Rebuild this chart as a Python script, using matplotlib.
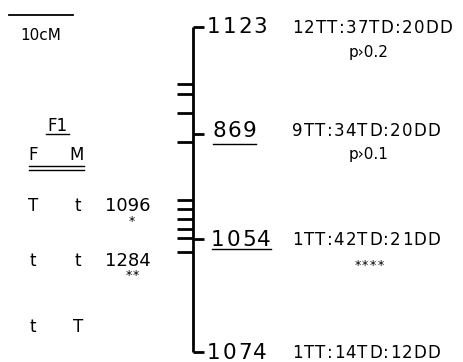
import matplotlib
matplotlib.use("Agg")
import matplotlib.pyplot as plt
from matplotlib import font_manager
from matplotlib.ft2font import FT2Font

# genetic map, positions in cM from the top marker
markers = ["1123", "869", "1054", "1074"]
marker_cm = [0.0, 16.7, 33.1, 50.8]
underlined = [False, True, True, False]
ratios = ["12TT:37TD:20DD", "9TT:34TD:20DD", "1TT:42TD:21DD", "1TT:14TD:12DD"]
signif = ["p\u203a0.2", "p\u203a0.1", "****", ""]

# short ticks left of the map (other loci)
tick_cm = [8.9, 10.5, 13.4, 18.0, 27.0, 28.5, 30.0, 31.5, 33.0, 35.1]

# F1 parental phase
f1_rows = [("T", "t", "1096", "*"), ("t", "t", "1284", "**"), ("t", "T", "", "")]

scale_cm = 10

PX_PER_CM = 6.4
TOP = 27
W, H = 463, 362
DPI = 100


def yp(pix):
    # pixel row -> cM on the map axis
    return (pix - TOP) / PX_PER_CM


plt.rcParams['font.family'] = ['DejaVu Sans']
font_file = font_manager.findfont("DejaVu Sans")


def spaced(ax, x, y, s, size, gap, ha="left", **kw):
    # draw text with extra letter spacing (x is in pixels here)
    ft = FT2Font(font_file)
    ft.set_size(size, DPI)
    adv = []
    for ch in s:
        g = ft.load_char(ord(ch))
        adv.append(g.linearHoriAdvance / 65536)
    total = sum(adv) + gap * (len(s) - 1)
    if ha == "center":
        x -= total / 2
    for ch, a in zip(s, adv):
        ax.text(x, y, ch, fontsize=size, ha="left", va="center", **kw)
        x += a + gap
    return x


fig = plt.figure(figsize=(W / DPI, H / DPI), dpi=DPI)
ax = fig.add_axes([0, 0, 1, 1])
ax.set_xlim(0, W)
ax.set_ylim(yp(H), yp(0))
ax.axis("off")

lw = 2.0
x0 = 193
# main chromosome line
ax.plot([x0, x0], [marker_cm[0], marker_cm[-1]], color="black", lw=lw,
        solid_capstyle="butt")
# marker ticks to the right
for cm in marker_cm:
    ax.plot([x0, x0 + 11], [cm, cm], color="black", lw=lw, solid_capstyle="butt")
# locus ticks to the left
for cm in tick_cm:
    ax.plot([x0 - 16, x0], [cm, cm], color="black", lw=lw, solid_capstyle="butt")

name_x = [207, 212, 211, 207]
name_dy = [0.0, -0.4, 0.2, 0.2]
ratio_dy = [0.1, -0.4, 0.2, 0.2]
sig_y = [52, 155, 266, 0]
for i, (name, cm, ul, rat, sg) in enumerate(zip(markers, marker_cm, underlined, ratios, signif)):
    x_end = spaced(ax, name_x[i], cm + name_dy[i], name, 15.5, 1.8)
    spaced(ax, 292, cm + ratio_dy[i], rat, 12, 1.3)
    if ul:
        ax.plot([name_x[i] + 1, x_end - 2], [cm + 1.55, cm + 1.55], color="black", lw=1.0)
    if sg.startswith("p"):
        ax.text(369, yp(sig_y[i]), sg, fontsize=11, ha="center", va="center")
    elif sg:
        spaced(ax, 369, yp(sig_y[i]), sg, 9, 1.5, ha="center")

# scale bar
ax.plot([9, 9 + scale_cm * PX_PER_CM], [yp(15), yp(15)], color="black", lw=1.3)
ax.text(41, yp(35), f"{scale_cm}cM", fontsize=11, ha="center", va="center")

# F1 header
ax.text(57, yp(126), "F1", fontsize=12, ha="center", va="center")
ax.plot([46, 69], [yp(134), yp(134)], color="black", lw=1.0)
ax.text(33, yp(155), "F", fontsize=12, ha="center", va="center")
ax.text(77, yp(155), "M", fontsize=12, ha="center", va="center")
ax.plot([29, 84], [yp(166), yp(166)], color="black", lw=1.0)
ax.plot([29, 84], [yp(170), yp(170)], color="black", lw=1.0)

row_y = [206, 261, 327]
for (f, m, loc, st), ry in zip(f1_rows, row_y):
    ax.text(33, yp(ry), f, fontsize=12, ha="center", va="center")
    ax.text(78, yp(ry), m, fontsize=12, ha="center", va="center")
    if loc:
        ax.text(128, yp(ry), loc, fontsize=13, ha="center", va="center")
    if st:
        spaced(ax, 132, yp(ry + 15), st, 9, 1.0, ha="center")

fig.savefig("out.png", dpi=DPI)
